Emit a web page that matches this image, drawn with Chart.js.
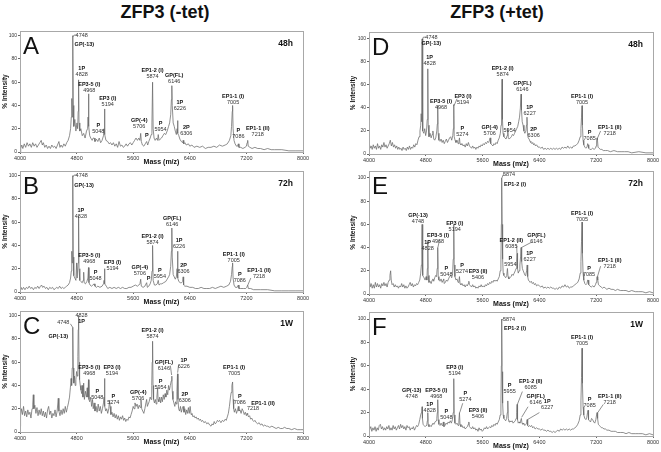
<!DOCTYPE html>
<html>
<head>
<meta charset="utf-8">
<script src="https://cdn.jsdelivr.net/npm/chart.js@4.4.1/dist/chart.umd.min.js"></script>
<style>
  body { margin: 0; background: #fff; width: 661px; height: 452px; position: relative; overflow: hidden; font-family: Arial, "Liberation Sans", sans-serif; }
  canvas { position: absolute; }
  .ttl { position: absolute; top: 2px; font-weight: bold; font-size: 18px; color: #111; width: 330px; text-align: center; }
</style>
</head>
<body>
<div class="ttl" style="left:0px">ZFP3 (-tet)</div>
<div class="ttl" style="left:332px">ZFP3 (+tet)</div>
<canvas id="cA" width="330" height="142" style="left:0px;top:25px"></canvas>
<canvas id="cB" width="330" height="142" style="left:0px;top:165px"></canvas>
<canvas id="cC" width="330" height="142" style="left:0px;top:305px"></canvas>
<canvas id="cD" width="331" height="143" style="left:330px;top:26px"></canvas>
<canvas id="cE" width="331" height="144" style="left:330px;top:165px"></canvas>
<canvas id="cF" width="331" height="145" style="left:330px;top:306px"></canvas>
<script>
// axis ticks
const massTicks = [4000, 4800, 5600, 6400, 7200, 8000]
const intensityTicks = [0, 20, 40, 60, 80, 100]

// spectra: [mass, % intensity]
const spectrumA = [[4000,0],[4010,3],[4025,6],[4040,3],[4060,7],[4080,4],[4100,8],[4120,5],[4140,7],[4160,4],[4180,8],[4200,5],[4220,7],[4240,4],[4260,6],[4280,8],[4300,10],[4315,6],[4330,8],[4350,4],[4370,6],[4390,3],[4410,5],[4430,3],[4450,6],[4470,4],[4490,5],[4510,3],[4530,6],[4550,9],[4565,4],[4580,6],[4600,4],[4620,7],[4640,5],[4660,8],[4680,10],[4700,14],[4715,20],[4725,30],[4732,46],[4738,30],[4744,70],[4748,100],[4753,40],[4760,22],[4775,28],[4790,18],[4805,25],[4815,20],[4822,35],[4828,62],[4834,25],[4845,18],[4860,20],[4880,14],[4900,16],[4920,12],[4940,18],[4955,20],[4962,30],[4968,50],[4974,22],[4985,14],[5000,12],[5020,10],[5035,12],[5048,12],[5060,9],[5080,11],[5100,9],[5120,12],[5140,8],[5160,10],[5180,14],[5188,20],[5194,37],[5200,15],[5215,10],[5240,9],[5260,7],[5280,8],[5300,6],[5320,8],[5340,5],[5360,7],[5380,4],[5400,9],[5420,5],[5440,6],[5460,4],[5480,5],[5500,7],[5520,5],[5540,7],[5560,8],[5580,6],[5600,8],[5620,10],[5640,12],[5660,10],[5680,12],[5695,10],[5706,16],[5715,9],[5730,6],[5750,5],[5770,7],[5790,9],[5805,6],[5820,9],[5840,12],[5855,15],[5865,25],[5874,60],[5882,20],[5895,12],[5910,10],[5930,12],[5945,10],[5954,15],[5965,10],[5980,11],[6000,12],[6020,14],[6040,16],[6060,15],[6080,18],[6100,22],[6115,25],[6130,32],[6140,45],[6146,57],[6152,40],[6165,25],[6180,22],[6195,18],[6210,15],[6220,20],[6226,27],[6233,16],[6245,14],[6260,11],[6280,9],[6300,8],[6306,10],[6315,7],[6330,8],[6350,6],[6380,7],[6400,5],[6430,6],[6460,4],[6500,5],[6540,4],[6580,5],[6620,3],[6660,4],[6700,4],[6740,5],[6780,4],[6820,6],[6860,5],[6900,6],[6930,7],[6960,10],[6980,14],[6990,22],[7000,35],[7005,40],[7012,20],[7025,10],[7040,7],[7060,5],[7075,5],[7086,7],[7095,4],[7120,4],[7150,3],[7180,4],[7200,5],[7210,8],[7218,10],[7226,5],[7250,4],[7280,3],[7320,4],[7360,3],[7400,3],[7450,2],[7500,3],[7550,2],[7600,2],[7700,2],[7800,1],[7900,1],[8000,1]]

const spectrumB = [[4000,0],[4015,4],[4030,2],[4050,4],[4070,2],[4090,4],[4110,3],[4130,5],[4150,3],[4170,4],[4190,2],[4210,4],[4230,3],[4250,5],[4270,3],[4290,5],[4305,6],[4320,4],[4340,5],[4360,3],[4380,4],[4400,2],[4420,4],[4440,3],[4460,4],[4480,2],[4500,3],[4520,4],[4540,3],[4560,5],[4580,3],[4600,4],[4620,3],[4640,4],[4660,5],[4680,6],[4700,8],[4715,12],[4725,18],[4732,35],[4738,25],[4744,60],[4748,100],[4753,30],[4760,14],[4775,12],[4790,10],[4800,25],[4808,12],[4820,25],[4828,65],[4834,20],[4845,10],[4860,9],[4880,8],[4893,10],[4900,17],[4907,8],[4925,7],[4945,9],[4960,12],[4968,21],[4975,8],[4990,6],[5010,5],[5030,6],[5048,7],[5060,5],[5080,4],[5100,5],[5130,4],[5160,5],[5180,7],[5188,10],[5194,20],[5200,7],[5220,5],[5240,3],[5270,4],[5300,3],[5330,4],[5360,3],[5390,4],[5420,3],[5450,4],[5480,3],[5510,3],[5540,4],[5570,4],[5600,5],[5630,6],[5660,5],[5680,6],[5695,7],[5706,11],[5715,5],[5740,4],[5765,5],[5790,8],[5800,4],[5820,5],[5840,7],[5855,10],[5866,18],[5874,40],[5882,10],[5900,6],[5920,6],[5940,7],[5954,10],[5965,6],[5985,7],[6005,7],[6030,8],[6060,9],[6080,11],[6100,13],[6115,15],[6130,22],[6140,35],[6146,55],[6152,30],[6165,15],[6180,13],[6195,11],[6210,13],[6220,20],[6226,35],[6233,12],[6245,9],[6265,8],[6285,8],[6300,9],[6306,13],[6313,6],[6330,5],[6360,5],[6400,4],[6440,4],[6480,3],[6520,3],[6560,4],[6600,3],[6640,3],[6680,3],[6720,4],[6760,3],[6800,4],[6840,5],[6880,4],[6920,5],[6950,6],[6975,9],[6990,15],[7000,22],[7005,25],[7012,12],[7025,6],[7045,4],[7070,4],[7086,6],[7095,3],[7120,3],[7160,3],[7190,3],[7205,4],[7218,6],[7228,3],[7260,3],[7300,2],[7350,2],[7400,2],[7500,2],[7600,1],[7700,1],[7800,1],[7900,1],[8000,1]]

const spectrumC = [[4000,5],[4008,14],[4020,20],[4035,15],[4050,22],[4065,14],[4080,18],[4095,13],[4110,19],[4125,15],[4140,17],[4155,12],[4170,20],[4180,24],[4188,32],[4196,20],[4210,23],[4225,16],[4240,21],[4255,14],[4270,19],[4285,15],[4300,20],[4315,14],[4330,18],[4345,13],[4360,17],[4375,12],[4390,19],[4405,22],[4420,15],[4435,18],[4450,12],[4465,16],[4480,14],[4495,19],[4510,13],[4525,18],[4541,29],[4550,18],[4565,14],[4580,19],[4595,15],[4610,20],[4625,16],[4640,22],[4655,17],[4670,21],[4685,25],[4700,30],[4712,38],[4722,46],[4730,40],[4738,55],[4744,75],[4748,90],[4753,55],[4760,42],[4770,48],[4780,40],[4790,45],[4800,52],[4810,48],[4818,65],[4823,88],[4828,100],[4834,60],[4842,45],[4852,40],[4862,36],[4872,33],[4880,40],[4890,30],[4900,42],[4910,28],[4925,35],[4940,30],[4950,38],[4960,30],[4968,45],[4975,28],[4985,26],[5000,30],[5012,22],[5025,28],[5035,20],[5048,25],[5060,18],[5075,22],[5090,17],[5105,24],[5120,18],[5135,22],[5150,16],[5165,20],[5180,25],[5188,30],[5194,46],[5200,22],[5212,18],[5225,20],[5240,16],[5255,20],[5266,27],[5274,22],[5285,15],[5300,17],[5315,13],[5330,16],[5345,12],[5360,15],[5375,11],[5390,14],[5405,10],[5420,13],[5435,11],[5450,14],[5465,10],[5480,12],[5495,9],[5510,11],[5525,10],[5540,13],[5555,12],[5570,15],[5585,18],[5600,22],[5612,20],[5625,25],[5640,22],[5655,24],[5670,20],[5685,23],[5700,21],[5710,28],[5720,20],[5735,18],[5750,16],[5765,20],[5780,25],[5790,28],[5800,22],[5812,24],[5825,26],[5840,30],[5852,28],[5862,40],[5868,60],[5874,78],[5880,40],[5888,28],[5900,25],[5912,28],[5925,24],[5935,30],[5945,38],[5952,28],[5962,26],[5975,30],[5988,25],[6000,30],[6012,26],[6025,32],[6038,28],[6050,33],[6062,30],[6075,36],[6088,32],[6100,40],[6112,36],[6125,40],[6138,44],[6146,48],[6152,35],[6162,28],[6175,25],[6188,22],[6200,26],[6210,24],[6218,35],[6226,50],[6233,28],[6242,20],[6255,18],[6268,22],[6280,17],[6293,20],[6306,22],[6318,17],[6330,20],[6342,15],[6355,19],[6368,16],[6380,21],[6392,16],[6405,22],[6418,15],[6430,16],[6445,13],[6460,14],[6475,12],[6490,13],[6505,11],[6520,12],[6535,10],[6550,11],[6565,9],[6580,10],[6600,8],[6620,9],[6640,7],[6660,8],[6680,6],[6700,5],[6715,7],[6730,6],[6745,9],[6760,7],[6775,8],[6790,10],[6805,9],[6820,10],[6840,8],[6860,10],[6880,9],[6900,11],[6915,10],[6930,13],[6945,16],[6960,22],[6975,30],[6985,34],[6995,40],[7005,43],[7012,28],[7020,20],[7030,17],[7045,20],[7060,16],[7075,19],[7086,22],[7095,18],[7110,19],[7125,16],[7140,20],[7155,18],[7170,15],[7185,17],[7200,14],[7210,16],[7218,15],[7230,13],[7245,14],[7260,11],[7275,12],[7290,10],[7305,9],[7320,10],[7340,8],[7360,7],[7380,8],[7400,6],[7420,7],[7440,5],[7460,6],[7480,5],[7500,5],[7530,4],[7560,5],[7590,4],[7620,3],[7650,4],[7680,3],[7710,3],[7740,4],[7770,3],[7800,3],[7840,2],[7880,3],[7920,2],[7960,2],[8000,2]]

const spectrumD = [[4000,0],[4005,9],[4015,5],[4030,7],[4045,4],[4060,8],[4075,5],[4090,7],[4105,4],[4120,9],[4135,5],[4150,7],[4165,4],[4180,8],[4195,6],[4210,10],[4225,6],[4240,8],[4255,5],[4270,7],[4285,9],[4300,12],[4315,7],[4330,10],[4345,6],[4360,8],[4375,5],[4390,7],[4405,4],[4420,6],[4435,4],[4450,5],[4465,3],[4480,6],[4495,4],[4510,5],[4525,3],[4540,6],[4555,4],[4570,7],[4585,4],[4600,6],[4615,5],[4630,8],[4645,6],[4660,9],[4675,8],[4690,12],[4705,15],[4718,20],[4728,25],[4735,35],[4740,28],[4744,60],[4748,100],[4753,35],[4760,20],[4772,18],[4785,22],[4798,16],[4810,20],[4820,30],[4828,74],[4834,25],[4845,15],[4860,18],[4875,14],[4890,17],[4900,20],[4912,13],[4925,12],[4940,14],[4955,20],[4962,26],[4968,42],[4974,18],[4985,12],[5000,11],[5015,13],[5030,10],[5045,12],[5060,9],[5075,11],[5090,13],[5105,10],[5120,12],[5135,14],[5150,15],[5165,12],[5180,16],[5188,22],[5194,43],[5200,15],[5212,12],[5225,10],[5240,12],[5255,9],[5266,11],[5274,14],[5282,9],[5295,8],[5310,9],[5325,7],[5340,8],[5355,6],[5370,9],[5385,7],[5400,10],[5415,7],[5430,6],[5445,5],[5460,7],[5475,5],[5490,6],[5505,4],[5520,6],[5535,5],[5550,7],[5565,6],[5580,8],[5595,7],[5610,9],[5625,8],[5640,10],[5655,9],[5670,11],[5685,10],[5697,12],[5706,14],[5715,9],[5730,8],[5745,7],[5760,9],[5775,8],[5790,10],[5805,9],[5820,12],[5835,14],[5850,18],[5860,25],[5867,40],[5874,65],[5880,30],[5888,18],[5900,15],[5915,14],[5930,13],[5945,16],[5954,22],[5962,14],[5975,13],[5990,14],[6005,15],[6020,17],[6035,16],[6050,18],[6065,20],[6080,22],[6095,24],[6108,28],[6120,32],[6132,40],[6141,52],[6148,38],[6158,28],[6170,25],[6182,20],[6195,18],[6210,20],[6218,25],[6225,32],[6232,18],[6242,14],[6255,13],[6268,11],[6280,10],[6295,9],[6306,10],[6318,8],[6330,9],[6345,7],[6360,8],[6380,6],[6400,6],[6420,5],[6440,6],[6460,4],[6480,5],[6500,4],[6520,5],[6540,4],[6560,5],[6580,4],[6600,5],[6620,4],[6640,5],[6660,4],[6680,5],[6700,4],[6720,6],[6740,5],[6760,6],[6780,5],[6800,7],[6820,5],[6840,6],[6860,5],[6880,7],[6900,7],[6920,8],[6940,9],[6960,12],[6975,15],[6985,22],[6993,32],[7000,42],[7006,25],[7015,12],[7025,8],[7040,6],[7055,5],[7070,6],[7080,9],[7086,8],[7095,5],[7110,4],[7130,4],[7150,5],[7170,4],[7190,5],[7200,7],[7206,12],[7212,14],[7218,12],[7226,6],[7240,5],[7260,4],[7280,4],[7300,3],[7330,3],[7360,3],[7400,2],[7450,3],[7500,2],[7550,2],[7600,2],[7650,2],[7700,1],[7800,2],[7900,1],[8000,1]]

const spectrumE = [[4000,3],[4005,12],[4015,6],[4030,9],[4045,5],[4060,8],[4075,5],[4090,10],[4105,6],[4120,9],[4135,6],[4150,8],[4165,5],[4180,9],[4195,7],[4210,10],[4225,7],[4240,9],[4255,6],[4270,10],[4285,12],[4295,16],[4305,20],[4313,12],[4325,8],[4340,9],[4355,6],[4370,8],[4385,6],[4400,7],[4415,5],[4430,7],[4445,6],[4460,9],[4475,6],[4490,8],[4505,5],[4520,7],[4535,5],[4550,6],[4565,8],[4580,10],[4595,7],[4610,9],[4625,6],[4640,8],[4655,7],[4670,9],[4685,8],[4700,10],[4715,12],[4728,18],[4738,25],[4744,45],[4748,60],[4753,30],[4760,16],[4775,14],[4790,12],[4805,15],[4815,12],[4822,22],[4828,45],[4834,16],[4845,10],[4860,11],[4875,9],[4890,12],[4900,13],[4912,11],[4925,14],[4940,16],[4952,15],[4960,22],[4968,40],[4975,15],[4985,12],[5000,11],[5015,13],[5030,10],[5045,12],[5052,13],[5060,9],[5075,10],[5090,12],[5105,11],[5120,13],[5135,15],[5150,16],[5165,14],[5178,18],[5186,30],[5194,60],[5200,25],[5210,15],[5225,12],[5240,13],[5255,10],[5266,11],[5274,15],[5282,9],[5295,8],[5310,9],[5325,7],[5340,8],[5355,6],[5370,8],[5385,7],[5398,9],[5406,11],[5415,8],[5430,7],[5445,6],[5460,8],[5475,6],[5490,7],[5505,5],[5520,6],[5535,5],[5550,7],[5565,6],[5580,8],[5595,6],[5610,7],[5625,6],[5640,8],[5655,7],[5670,9],[5685,8],[5700,10],[5715,9],[5730,11],[5745,10],[5760,12],[5775,11],[5790,12],[5805,11],[5820,13],[5835,15],[5848,20],[5858,30],[5864,60],[5869,100],[5875,60],[5882,30],[5890,18],[5900,16],[5912,15],[5925,14],[5940,16],[5950,22],[5958,15],[5970,13],[5985,14],[6000,15],[6015,17],[6030,16],[6045,18],[6060,20],[6072,22],[6080,28],[6086,35],[6092,22],[6102,18],[6115,20],[6125,25],[6135,32],[6142,40],[6150,28],[6160,22],[6172,20],[6185,18],[6198,16],[6210,17],[6220,20],[6228,25],[6235,15],[6245,12],[6258,11],[6270,10],[6285,11],[6300,9],[6315,10],[6330,8],[6345,9],[6360,7],[6380,8],[6400,7],[6420,6],[6440,7],[6460,5],[6480,6],[6500,5],[6520,6],[6540,5],[6560,6],[6580,5],[6600,5],[6620,4],[6640,5],[6660,4],[6680,6],[6700,5],[6720,7],[6740,6],[6760,8],[6780,6],[6800,7],[6820,5],[6840,6],[6860,6],[6880,7],[6900,8],[6920,9],[6940,10],[6960,13],[6975,18],[6985,28],[6993,45],[7000,62],[7006,35],[7015,18],[7025,12],[7040,9],[7055,8],[7070,9],[7080,12],[7086,12],[7095,8],[7110,7],[7130,6],[7150,7],[7170,6],[7190,8],[7200,10],[7208,14],[7214,15],[7222,12],[7232,8],[7250,7],[7270,6],[7290,5],[7310,6],[7330,5],[7350,4],[7380,5],[7410,4],[7440,4],[7470,3],[7500,4],[7540,3],[7580,3],[7620,3],[7660,2],[7700,3],[7750,2],[7800,2],[7850,2],[7900,1],[7950,2],[8000,1]]

const spectrumF = [[4000,3],[4003,15],[4010,5],[4025,8],[4040,4],[4055,7],[4070,5],[4085,8],[4100,4],[4115,7],[4130,5],[4145,9],[4160,10],[4175,6],[4190,8],[4205,5],[4220,7],[4235,5],[4250,8],[4265,6],[4280,9],[4295,5],[4310,7],[4325,5],[4340,9],[4355,6],[4370,8],[4385,5],[4400,7],[4415,9],[4430,6],[4445,10],[4460,7],[4475,9],[4490,6],[4505,8],[4520,5],[4535,9],[4550,7],[4565,8],[4580,5],[4595,7],[4610,6],[4625,8],[4640,5],[4655,7],[4670,9],[4685,8],[4700,10],[4715,14],[4728,18],[4738,20],[4744,22],[4748,25],[4753,15],[4762,10],[4775,9],[4790,8],[4805,9],[4815,10],[4822,13],[4828,20],[4834,10],[4845,8],[4860,9],[4875,8],[4890,10],[4900,11],[4915,10],[4930,12],[4945,13],[4955,15],[4962,20],[4968,31],[4975,14],[4985,10],[5000,9],[5015,11],[5030,9],[5042,11],[5048,12],[5056,8],[5070,9],[5085,11],[5100,10],[5115,12],[5130,11],[5145,13],[5160,11],[5175,14],[5186,20],[5194,49],[5200,18],[5210,11],[5225,10],[5240,11],[5255,9],[5266,13],[5274,20],[5282,10],[5295,8],[5310,9],[5325,7],[5340,8],[5355,6],[5370,7],[5385,8],[5398,10],[5406,12],[5415,8],[5430,7],[5445,6],[5460,8],[5475,6],[5490,7],[5505,5],[5520,6],[5535,4],[5550,7],[5565,5],[5580,6],[5595,4],[5610,5],[5625,7],[5640,6],[5655,8],[5670,6],[5685,7],[5700,8],[5715,7],[5730,9],[5745,8],[5760,10],[5775,9],[5790,11],[5805,10],[5820,12],[5835,14],[5848,18],[5858,28],[5864,60],[5869,100],[5875,55],[5882,28],[5890,18],[5900,15],[5912,14],[5925,13],[5938,15],[5948,20],[5955,30],[5962,15],[5972,12],[5985,13],[6000,12],[6015,13],[6030,11],[6045,12],[6060,13],[6072,15],[6080,20],[6086,27],[6092,14],[6102,11],[6115,12],[6125,11],[6135,13],[6146,15],[6155,11],[6168,10],[6180,11],[6195,9],[6210,10],[6220,11],[6227,14],[6235,9],[6248,8],[6262,9],[6275,8],[6290,9],[6305,7],[6320,8],[6340,6],[6360,7],[6380,6],[6400,6],[6420,5],[6440,6],[6460,5],[6480,5],[6500,4],[6520,5],[6540,4],[6560,4],[6580,3],[6600,4],[6620,3],[6640,4],[6660,5],[6680,4],[6700,6],[6720,5],[6740,6],[6760,5],[6780,6],[6800,5],[6820,6],[6840,5],[6860,6],[6880,6],[6900,7],[6920,8],[6940,10],[6960,13],[6975,18],[6985,30],[6993,50],[7000,75],[7006,45],[7015,25],[7025,18],[7040,15],[7055,14],[7068,16],[7078,20],[7085,22],[7092,14],[7105,13],[7120,12],[7135,15],[7150,14],[7165,12],[7180,11],[7195,14],[7205,18],[7212,20],[7220,15],[7230,10],[7245,9],[7260,8],[7275,7],[7290,7],[7310,6],[7330,6],[7350,5],[7380,5],[7410,4],[7440,4],[7470,4],[7500,3],[7540,3],[7580,3],[7620,2],[7660,3],[7700,2],[7750,2],[7800,2],[7850,2],[7900,1],[7950,2],[8000,1]]

// peak labels: [mass, intensity, name (bold), m/z text]
const labelsA = [[4872,100.5,'','4748'],[4910,92.6,'GP(-13)',''],[4872,72,'1P','4828'],[4979,57.7,'EP3-5 (I)','4968'],[5240,45.7,'EP3 (I)','5194'],[5106,22.9,'P','5048'],[5685,26.9,'GP(-4)','5706'],[5793,14.3,'P',''],[5873,70.3,'EP1-2 (I)','5874'],[5986,24.6,'P','5954'],[6180,65.7,'GP(FL)','6146'],[6259,42.9,'1P','6226'],[6350,21.1,'2P','6306'],[7012,47.7,'EP1-1 (I)','7005'],[7087,18.3,'P','7086'],[7360,20.6,'EP1-1 (II)','7218']]
const labelsB = [[4872,100.5,'','4748'],[4905,91.4,'GP(-13)',''],[4861,69.7,'1P','4828'],[4979,31.4,'EP3-5 (I)','4968'],[5068,17.1,'P','5048'],[5308,25.7,'EP3 (I)','5194'],[5694,21.1,'GP(-4)','5706'],[5817,11.4,'P',''],[5873,47.7,'EP1-2 (I)','5874'],[5977,18.3,'P','5954'],[6151,63.4,'GP(FL)','6146'],[6249,44,'1P','6226'],[6311,22.9,'2P','6306'],[7021,32.6,'EP1-1 (I)','7005'],[7106,14.9,'P','7086'],[7379,18.3,'EP1-1 (II)','7218']]
const labelsC = [[4612,94.3,'','4748'],[4541,82,'GP(-13)',''],[4870,100,'','4828'],[4870,94.9,'1P',''],[4979,55.4,'EP3-5 (I)','4968'],[5300,55.4,'EP3 (I)','5194'],[5092,34.9,'P','5048'],[5318,30.6,'P','5274'],[5671,34.3,'GP(-4)','5706'],[5873,87.1,'EP1-2 (I)','5874'],[5986,43.4,'P','5954'],[6033,60,'GP(FL)','6146'],[6315,61.1,'1P','6226'],[6329,32,'2P','6306'],[7026,55.4,'EP1-1 (I)','7005'],[7106,30.6,'P','7086'],[7435,24.9,'EP1-1 (II)',''],[7294,20,'','7218']]
const labelsD = [[4880,101.5,'','4748'],[4878,96,'GP(-13)',''],[4854,84.1,'1P','4828'],[5014,45.7,'EP3-5 (I)','4968'],[5324,50.3,'EP3 (I)','5194'],[5315,22,'P','5274'],[5700,23.4,'GP(-4)','5706'],[5883,74,'EP1-2 (I)','5874'],[5981,25.4,'P','5954'],[6160,61,'GP(FL)','6146'],[6263,40.8,'1P','6227'],[6319,21.4,'2P','6306'],[7000,50.3,'EP1-1 (I)','7005'],[7108,19.1,'P','7085'],[7390,23.4,'EP1-1 (II)','7218']]
const labelsE = [[5972,102.8,'','5874'],[6056,94.8,'EP1-2 (I)',''],[4690,67.8,'GP(-13)','4748'],[4826,44.8,'1P','4828'],[4972,50.6,'EP3-5 (I)','4968'],[5089,22.4,'P','5048'],[5207,61.2,'EP3 (I)','5194'],[5310,24.7,'P','5274'],[5535,19,'EP3 (II)','5406'],[6005,46,'EP1-2 (II)','6085'],[5991,30.5,'P','5954'],[6357,50.3,'GP(FL)','6146'],[6263,34.5,'1P','6227'],[7000,69,'EP1-1 (I)','7005'],[7099,22.4,'P','7085'],[7390,28.7,'EP1-1 (II)','7218']]
const labelsF = [[5972,100,'','5874'],[6056,91.5,'EP1-2 (I)',''],[4601,39.3,'GP(-13)','4748'],[4855,27,'1P','4828'],[4948,39.3,'EP3-5 (I)','4968'],[5089,20.8,'P','5048'],[5207,58.4,'EP3 (I)','5194'],[5357,36.5,'P','5274'],[5535,21.4,'EP3 (II)','5406'],[5981,43.6,'P','5955'],[6277,46.4,'EP1-2 (II)','6085'],[6348,33.6,'GP(FL)','6146'],[6510,29.3,'1P','6227'],[7000,84,'EP1-1 (I)','7005'],[7108,31.3,'P','7085'],[7390,33.6,'EP1-1 (II)','7218']]

// leader lines: [mass1, int1, mass2, int2]
const leadersA = [[4750,99,4765,100.5],[4765,100.5,4800,100.5]]
const leadersB = [[4750,99,4765,100.5],[4765,100.5,4800,100.5],[7220,6,7262,12]]
const leadersC = [[4712,93,4745,90],[6125,57,6143,49],[6240,57,6228,51]]
const leadersD = [[4750,99,4765,101.5],[4765,101.5,4805,101.5],[5198,42,5240,48],[7220,14,7262,20]]
const leadersE = [[5872,100,5890,102.8],[5890,102.8,5905,102.8],[4970,40,4995,47],[6084,35,6080,42],[6146,40,6300,45],[7218,15,7262,24]]
const leadersF = [[5872,99,5890,100],[5890,100,5905,100],[5278,20,5320,28],[6090,27,6160,38],[6150,16,6240,25],[6232,14,6400,20],[7222,20,7300,27]]

const FONT = 'Arial, "Liberation Sans", sans-serif'

const panels = {
  cA: { spec: spectrumA, labels: labelsA, leaders: leadersA, letter: 'A', time: '48h', ymax: 104, padL: 0, yW: 20, padR: 27 },
  cB: { spec: spectrumB, labels: labelsB, leaders: leadersB, letter: 'B', time: '72h', ymax: 104, padL: 0, yW: 20, padR: 27 },
  cC: { spec: spectrumC, labels: labelsC, leaders: leadersC, letter: 'C', time: '1W', ymax: 104, padL: 0, yW: 20, padR: 27 },
  cD: { spec: spectrumD, labels: labelsD, leaders: leadersD, letter: 'D', time: '48h', ymax: 106, padL: 18, yW: 21, padR: 8 },
  cE: { spec: spectrumE, labels: labelsE, leaders: leadersE, letter: 'E', time: '72h', ymax: 106, padL: 18, yW: 21, padR: 8 },
  cF: { spec: spectrumF, labels: labelsF, leaders: leadersF, letter: 'F', time: '1W', ymax: 106, padL: 18, yW: 21, padR: 8 }
}

const annot = {
  id: 'annot',
  afterDatasetsDraw(chart) {
    const p = panels[chart.canvas.id]
    const { ctx, chartArea: a } = chart
    const x = chart.scales.x, y = chart.scales.y
    ctx.save()
    ctx.strokeStyle = '#a8a8a8'
    ctx.lineWidth = 1
    ctx.strokeRect(Math.round(a.left) + 0.5, Math.round(a.top) + 0.5, Math.round(a.right - a.left), Math.round(a.bottom - a.top))
    ctx.fillStyle = '#111'
    ctx.font = '24px ' + FONT
    ctx.textAlign = 'left'
    ctx.textBaseline = 'alphabetic'
    ctx.fillText(p.letter, a.left + 3, a.top + 23)
    ctx.font = 'bold 8.5px ' + FONT
    ctx.textAlign = 'right'
    ctx.fillText(p.time, a.right - 10, a.top + 15)
    ctx.strokeStyle = '#444'
    ctx.lineWidth = 0.6
    p.leaders.forEach(([m1, v1, m2, v2]) => {
      ctx.beginPath()
      ctx.moveTo(x.getPixelForValue(m1), y.getPixelForValue(v1))
      ctx.lineTo(x.getPixelForValue(m2), y.getPixelForValue(v2))
      ctx.stroke()
    })
    ctx.textAlign = 'center'
    ctx.textBaseline = 'middle'
    p.labels.forEach(([m, v, name, num]) => {
      const px = x.getPixelForValue(m), py = y.getPixelForValue(v)
      if (name) {
        ctx.font = 'bold 5.5px ' + FONT
        ctx.fillStyle = '#111'
        ctx.fillText(name, px, py)
      }
      if (num) {
        ctx.font = '5.5px ' + FONT
        ctx.fillStyle = '#333'
        ctx.fillText(num, px, name ? py + 6 : py)
      }
    })
    ctx.restore()
  }
}

Object.keys(panels).forEach(id => {
  const p = panels[id]
  new Chart(document.getElementById(id), {
    type: 'line',
    data: {
      datasets: [{
        data: p.spec.map(d => ({ x: d[0], y: d[1] })),
        borderColor: '#6a6a6a',
        borderWidth: 0.75,
        pointRadius: 0,
        tension: 0
      }]
    },
    options: {
      responsive: false,
      animation: false,
      layout: { padding: { left: p.padL, right: p.padR, top: 6, bottom: 0 } },
      plugins: { legend: { display: false }, tooltip: { enabled: false } },
      scales: {
        x: {
          type: 'linear', min: 4000, max: 8000,
          afterFit(s) { s.height = 15 },
          afterBuildTicks(s) { s.ticks = massTicks.map(v => ({ value: v })) },
          grid: { drawOnChartArea: false, tickLength: 2, color: '#666' },
          border: { display: false },
          ticks: { font: { size: 5.5, family: FONT }, color: '#333', padding: 1, maxRotation: 0, autoSkip: false, callback: v => String(v) },
          title: { display: true, text: 'Mass (m/z)', font: { size: 7, weight: 'bold', family: FONT }, color: '#111', padding: { top: 0, bottom: 1 } }
        },
        y: {
          min: 0, max: p.ymax,
          afterFit(s) { s.width = p.yW },
          afterBuildTicks(s) { s.ticks = intensityTicks.map(v => ({ value: v })) },
          grid: { drawOnChartArea: false, tickLength: 2, color: '#666' },
          border: { display: false },
          ticks: { font: { size: 5, family: FONT }, color: '#333', padding: 1, callback: v => String(v) },
          title: { display: true, text: '% Intensity', font: { size: 6.5, weight: 'bold', family: FONT }, color: '#111', padding: { top: 1, bottom: 0 } }
        }
      }
    },
    plugins: [annot]
  })
})
</script>
</body>
</html>
